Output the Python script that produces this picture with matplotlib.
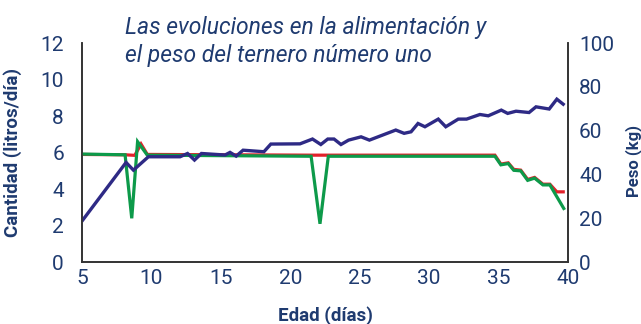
import matplotlib.pyplot as plt

plt.rcParams['font.family'] = ['Roboto', 'DejaVu Sans']

# leche ofrecida (rojo) y consumida (verde), litros/día
dias_ofrecida = [5, 8.1, 8.8, 9.25, 9.7, 21.5, 22.7, 34.74, 35.17, 35.7, 36.1, 36.6,
                 37.1, 37.6, 38.2, 38.7, 39.2, 39.66]
ofrecida = [5.9, 5.88, 5.85, 6.47, 5.9, 5.86, 5.86, 5.86, 5.37, 5.44, 5.08, 5.04,
            4.53, 4.64, 4.27, 4.27, 3.85, 3.85]

dias_consumida = [5, 8.1, 8.58, 9.0, 9.7, 21.5, 22.14, 22.74, 34.74, 35.17, 35.7,
                  36.1, 36.6, 37.1, 37.6, 38.2, 38.7, 39.7]
consumida = [5.92, 5.88, 2.4, 6.6, 5.86, 5.8, 2.1, 5.8, 5.8, 5.33, 5.4,
             5.03, 5.0, 4.48, 4.6, 4.23, 4.23, 2.94]

# peso del ternero, kg
dias_peso = [5.05, 8.17, 8.7, 9.78, 12.06, 12.6, 13.1, 13.6, 15.3, 15.66, 16.1, 16.6,
             18.1, 18.6, 20.7, 21.6, 22.2, 22.7, 23.15, 23.65, 24.2, 25.1, 25.7,
             27.6, 28.2, 28.7, 29.2, 29.7, 30.66, 31.2, 32.1, 32.7, 33.66, 34.26,
             35.2, 35.66, 36.26, 37.2, 37.7, 38.65, 39.2, 39.66]
peso = [19.2, 45.5, 42.0, 48.1, 48.1, 49.6, 46.6, 49.6, 48.9, 50.1, 48.4, 51.1,
        50.4, 53.9, 54.0, 56.2, 53.7, 56.2, 56.2, 53.7, 55.7, 57.2, 55.7,
        60.3, 58.8, 59.5, 63.3, 61.8, 65.3, 61.8, 65.3, 65.3, 67.4, 66.8,
        69.4, 67.9, 68.9, 68.3, 70.9, 69.9, 74.4, 72.1]

navy = '#1f3b70'
spine_col = '#333333'

fig = plt.figure(figsize=(6.41, 3.24), dpi=100)
ax = fig.add_axes([0.128, 0.191, 0.758, 0.676])
ax2 = ax.twinx()

ax.plot(dias_ofrecida, ofrecida, color='#e3202a', lw=2.3, solid_joinstyle='miter', zorder=2)
ax.plot(dias_consumida, consumida, color='#0d9a4a', lw=2.3, solid_joinstyle='miter', zorder=3)
ax2.plot(dias_peso, peso, color='#2e2a85', lw=2.4, solid_joinstyle='miter')

ax.set_xlim(5, 40)
ax.set_ylim(0, 12)
ax2.set_ylim(0, 100)
ax.set_xticks(range(5, 41, 5))
ax.set_yticks(range(0, 13, 2))
ax2.set_yticks(range(0, 101, 20))

for a in (ax, ax2):
    a.spines['top'].set_visible(False)
    for s in ('left', 'right', 'bottom'):
        a.spines[s].set_color(spine_col)
        a.spines[s].set_linewidth(1.2)
ax.tick_params(axis='both', length=0, labelsize=15, labelcolor=navy)
ax.tick_params(axis='y', pad=13)
ax.tick_params(axis='x', pad=5)
ax2.tick_params(axis='y', length=0, labelsize=15, labelcolor=navy, pad=8)

ax.set_xlabel('Edad (días)', fontsize=13.5, fontweight='bold', color=navy)
ax.xaxis.set_label_coords(0.5, -0.2)
ax.set_ylabel('Cantidad (litros/día)', fontsize=13.5, fontweight='bold', color=navy)
ax.yaxis.set_label_coords(-0.123, 0.5)
ax2.set_ylabel('Peso (kg)', fontsize=12, fontweight='bold', color=navy)
ax2.yaxis.set_label_coords(1.117, 0.46)

fig.text(125 / 641, 1 - 62 / 324,
         'Las evoluciones en la alimentación y\nel peso del ternero número uno',
         fontsize=16.5, style='italic', color=navy, ha='left', va='baseline',
         linespacing=1.28)

fig.savefig('out.png', dpi=100)
